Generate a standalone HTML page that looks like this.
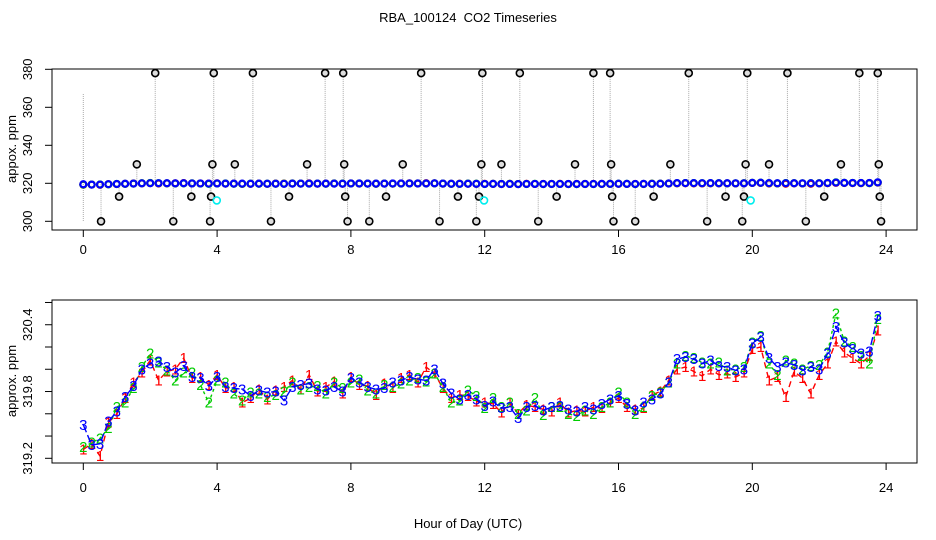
<!DOCTYPE html>
<html><head><meta charset="utf-8"><style>
body{margin:0;background:#fff}
svg{display:block;font-family:"Liberation Sans",sans-serif}
</style></head><body>
<svg id="c" width="936" height="540" viewBox="0 0 936 540">
<text x="468" y="22" text-anchor="middle" font-size="13">RBA_100124&#160; CO2 Timeseries</text>
<text x="468" y="528" text-anchor="middle" font-size="13">Hour of Day (UTC)</text>
<g id="topPanel"></g>
<g id="botPanel"></g>
</svg>
<script>
const hours = [0,4,8,12,16,20,24];
const topTicks = [300,320,340,360,380];
const botTicks = [319.2,319.4,319.6,319.8,320.0,320.2,320.4,320.6];
const botLabels = [319.2,319.8,320.4];
const s1 = [319.28,319.33,319.22,319.52,319.60,319.74,319.88,319.97,320.08,319.90,319.98,320.00,320.10,319.92,319.93,319.86,319.95,319.83,319.84,319.70,319.74,319.82,319.73,319.81,319.84,319.90,319.82,319.95,319.80,319.84,319.89,319.78,319.93,319.86,319.85,319.77,319.87,319.83,319.92,319.95,319.88,320.02,319.96,319.83,319.74,319.77,319.76,319.71,319.70,319.69,319.61,319.70,319.60,319.68,319.66,319.64,319.62,319.70,319.61,319.63,319.62,319.66,319.65,319.70,319.74,319.66,319.64,319.65,319.77,319.80,319.90,320.00,320.02,319.98,319.94,320.00,319.95,319.96,319.93,319.97,320.18,320.20,319.90,319.93,319.75,319.98,319.92,319.78,319.95,320.05,320.25,320.15,320.10,320.05,320.12,320.35];
const s2 = [319.30,319.34,319.38,319.47,319.66,319.70,319.83,320.02,320.14,320.06,319.99,319.90,319.97,319.97,319.86,319.70,319.90,319.88,319.78,319.72,319.79,319.78,319.75,319.77,319.80,319.88,319.82,319.84,319.85,319.78,319.88,319.83,319.88,319.91,319.81,319.78,319.86,319.84,319.87,319.90,319.92,319.89,319.96,319.84,319.70,319.72,319.81,319.76,319.65,319.74,319.66,319.70,319.60,319.63,319.74,319.59,319.66,319.66,319.60,319.58,319.63,319.60,319.66,319.70,319.79,319.70,319.60,319.66,319.76,319.79,319.88,320.05,320.12,320.10,320.06,320.05,320.06,319.99,320.00,320.02,320.24,320.30,320.05,319.95,320.08,320.05,320.00,320.03,320.04,320.15,320.50,320.25,320.20,320.12,320.05,320.45];
const s3 = [319.50,319.32,319.33,319.53,319.62,319.75,319.85,320.00,320.05,320.07,320.02,319.97,320.03,319.93,319.92,319.85,319.93,319.84,319.83,319.82,319.76,319.81,319.79,319.80,319.72,319.84,319.86,319.87,319.82,319.81,319.84,319.80,319.92,319.88,319.84,319.82,319.83,319.88,319.90,319.93,319.91,319.90,320.00,319.87,319.78,319.73,319.77,319.73,319.67,319.71,319.65,319.66,319.56,319.66,319.67,319.63,319.66,319.67,319.64,319.62,319.66,319.64,319.69,319.73,319.76,319.69,319.63,319.70,319.73,319.78,319.88,320.09,320.11,320.09,320.05,320.08,320.03,320.02,319.99,320.00,320.23,320.29,320.10,320.02,320.06,320.04,319.99,320.02,320.00,320.14,320.38,320.24,320.18,320.14,320.16,320.48];
const outHours = [0.53,1.07,1.6,2.15,2.69,3.23,3.79,3.82,3.86,3.9,4.53,5.07,5.61,6.15,6.69,7.23,7.77,7.8,7.83,7.9,8.55,9.05,9.55,10.1,10.65,11.2,11.75,11.83,11.9,11.93,12.5,13.05,13.6,14.15,14.7,15.25,15.75,15.78,15.81,15.85,16.5,17.05,17.55,18.1,18.65,19.2,19.7,19.75,19.8,19.85,20.5,21.05,21.6,22.15,22.65,23.2,23.75,23.78,23.81,23.85];
const outVals = [300,313,330,378,300,313,300,313,330,378,330,378,300,313,330,378,378,330,313,300,300,313,330,378,300,313,300,313,330,378,330,378,300,313,330,378,378,330,313,300,300,313,330,378,300,313,300,313,330,378,330,378,300,313,330,378,378,330,313,300];
const cyanHours = [3.99,11.98,19.95];
const cyanVals = [311,311,311];

(function(){
const NS="http://www.w3.org/2000/svg";
function mk(p,tag,at){const e=document.createElementNS(NS,tag);for(const k in at)e.setAttribute(k,at[k]);p.appendChild(e);return e;}
const xS=h=>83.3+h*33.45;
const yT=v=>69.3+(380-v)*1.9;
const yB=v=>458.3-(v-319.2)*111.3;
const times=s1.map((_,i)=>i*0.25);

const tp=document.getElementById('topPanel');
const tb=mk(tp,'rect',{x:52,y:69,width:865,height:161,fill:'none',stroke:'#000','stroke-width':1});


hours.forEach(h=>{
  const t=mk(tp,'line',{x1:xS(h),x2:xS(h),y1:230,y2:237,stroke:'#000'});
  
  
  const l=mk(tp,'text',{x:xS(h),y:254,'text-anchor':'middle','font-size':13});
  l.textContent=h;
  
  
});
topTicks.forEach(v=>{
  const t=mk(tp,'line',{x1:45,x2:52,y1:yT(v),y2:yT(v),stroke:'#000'});
  
  
  const l=mk(tp,'text',{x:32,y:yT(v),'text-anchor':'middle','font-size':13,transform:`rotate(-90 32 ${yT(v)})`});
  l.textContent=v;
  
  
});
const ty=mk(tp,'text',{x:16,y:149,'text-anchor':'middle','font-size':13,transform:'rotate(-90 16 149)'});
ty.textContent='appox. ppm';


const vl=mk(tp,'line',{x1:xS(0),x2:xS(0),y1:yT(367),y2:yT(300),stroke:'#aaa','stroke-dasharray':'1 1'});


outHours.forEach((h,i)=>{
  const v=outVals[i];
  const l=mk(tp,'line',{x1:xS(h),x2:xS(h),y1:yT(v),y2:yT(320),stroke:'#aaa','stroke-dasharray':'1 1'});
  
  
});
[[s1,'#f00'],[s2,'#0c0'],[s3,'#00f']].forEach(([s,c])=>{
  s.forEach((v,i)=>{
    const p=mk(tp,'circle',{cx:xS(times[i]),cy:yT(v),r:3,fill:'none',stroke:c,'stroke-width':2.2});
    
    
  });
});
outHours.forEach((h,i)=>{
  const p=mk(tp,'circle',{cx:xS(h),cy:yT(outVals[i]),r:3.5,fill:'#ddd',stroke:'#000','stroke-width':1.6});
  
  
});
cyanHours.forEach((h,i)=>{
  const p=mk(tp,'circle',{cx:xS(h),cy:yT(cyanVals[i]),r:3.5,fill:'none',stroke:'#0ee','stroke-width':1.6});
  
  
});

const bp=document.getElementById('botPanel');
const bb=mk(bp,'rect',{x:52,y:300,width:865,height:163,fill:'none',stroke:'#000','stroke-width':1});


hours.forEach(h=>{
  const t=mk(bp,'line',{x1:xS(h),x2:xS(h),y1:463,y2:470,stroke:'#000'});
  
  
  const l=mk(bp,'text',{x:xS(h),y:492,'text-anchor':'middle','font-size':13});
  l.textContent=h;
  
  
});
botTicks.forEach(v=>{
  const t=mk(bp,'line',{x1:45,x2:52,y1:yB(v),y2:yB(v),stroke:'#000'});
  
  
});
botLabels.forEach(v=>{
  const l=mk(bp,'text',{x:32,y:yB(v),'text-anchor':'middle','font-size':13,transform:`rotate(-90 32 ${yB(v)})`});
  l.textContent=v.toFixed(1);
  
  
});
const by=mk(bp,'text',{x:16,y:381,'text-anchor':'middle','font-size':13,transform:'rotate(-90 16 381)'});
by.textContent='approx. ppm';


[[s1,'#f00','1','6 4'],[s2,'#0c0','2','3 3'],[s3,'#00f','3','8 3']].forEach(([s,c,lab,da])=>{
  const pl=mk(bp,'polyline',{points:s.map((v,i)=>xS(times[i])+','+yB(v)).join(' '),fill:'none',stroke:c,'stroke-width':1.4,'stroke-dasharray':da});
  
  
  s.forEach((v,i)=>{
    const t=mk(bp,'text',{x:xS(times[i]),y:yB(v)+5,'text-anchor':'middle','font-size':15,fill:c});
    t.textContent=lab;
    
    
  });
});
})();
</script>
</body></html>
